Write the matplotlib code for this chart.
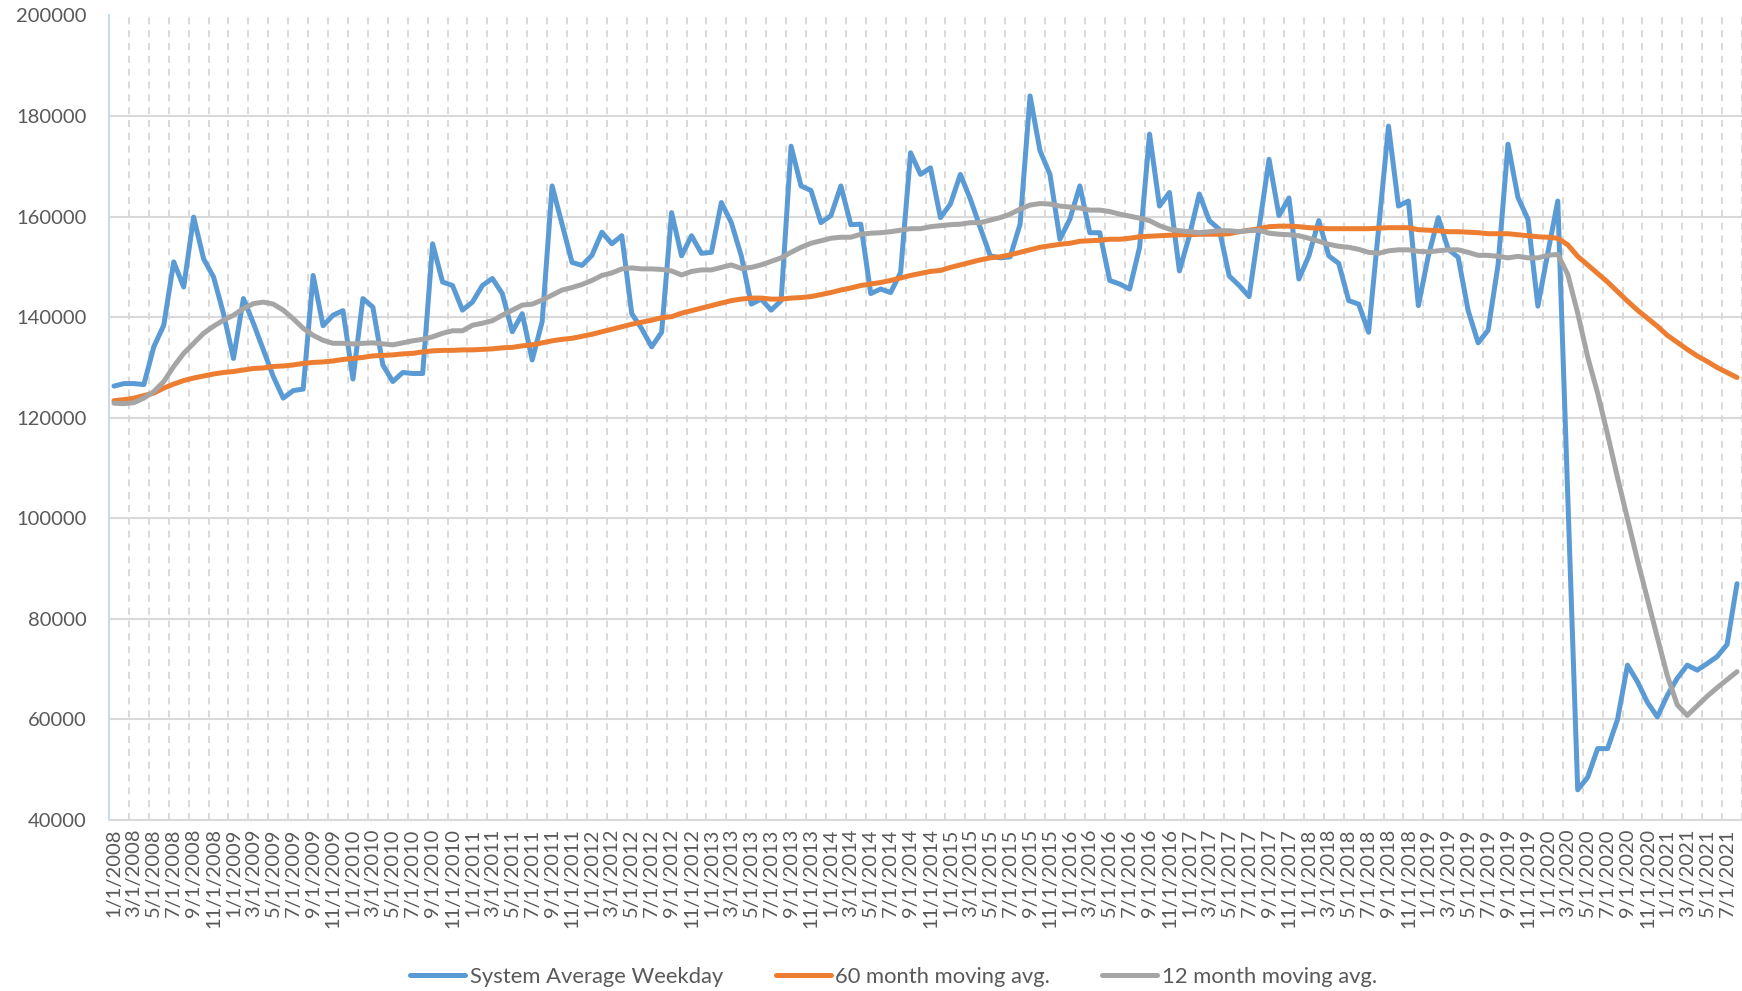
import numpy as np
import matplotlib
matplotlib.use("Agg")
import matplotlib.pyplot as plt
import pandas as pd

# ---- data (monthly, starting 1/1/2008) ----
months = pd.date_range("2008-01-01", periods=164, freq="MS")
month_labels = [f"{d.month}/1/{d.year}" for d in months]

system_avg_weekday = [
    126300, 126800, 126800, 126600, 134100, 138400, 151000, 146000, 159900, 151600,
    148000, 140700, 131800, 143700, 138800, 133500, 128200, 123900, 125400, 125700,
    148300, 138300, 140400, 141300, 127700, 143700, 142000, 130500, 127200,
    129000, 128800, 128800, 154600, 147000, 146300, 141400, 143000, 146300, 147700,
    144700, 137100, 140700, 131500, 139100, 166100, 158500, 150900, 150300, 152300,
    156900, 154600, 156200, 140700, 137700, 134100, 137000,
    160800, 152200, 156200, 152700, 152900, 162800, 158800, 152200, 142600, 143600,
    141400, 143300, 174000, 166100, 165200, 158800, 160200, 166100, 158400, 158500,
    144700, 145600, 144900, 148900, 172700, 168400, 169700,
    159800, 162500, 168400, 163500, 157800, 152200, 151800, 152000, 158500, 184000,
    173100, 168400, 155500, 159500, 166100, 156800, 156800, 147300, 146600, 145600,
    153900, 176400, 162100, 164800, 149200, 156200, 164500, 159200,
    157500, 148200, 146300, 144100, 157800, 171400, 160200, 163700, 147600, 152200,
    159200, 152200, 150700, 143300, 142600, 137000, 157500, 178000, 162100, 163100,
    142300, 152200, 159800, 153500, 151900,
    141300, 134900, 137400, 150400, 174400, 163800, 159500, 142200, 152800, 163100,
    104500, 46000, 48500, 54200, 54200, 60000, 70800, 67500, 63400, 60500,
    64800, 68200, 70800, 69800, 71100, 72500, 74900, 87000,
]

moving_avg_60 = [
    123400, 123600, 123900, 124400, 124900, 125900, 126700, 127400, 127900, 128300,
    128700, 129000, 129200, 129500, 129800, 129900, 130200, 130300, 130500, 130800,
    131000, 131100, 131300, 131600, 131800, 132000, 132300, 132400, 132500,
    132700, 132800, 133100, 133300, 133400, 133400, 133500, 133500, 133600, 133700,
    133900, 134000, 134300, 134500, 134900, 135300, 135600, 135800, 136200, 136600,
    137100, 137600, 138100, 138600, 139000, 139400, 139900,
    140100, 140800, 141300, 141800, 142300, 142800, 143300, 143600, 143800, 143800,
    143600, 143600, 143800, 143900, 144100, 144500, 144900, 145400, 145800, 146300,
    146600, 146900, 147300, 147800, 148300, 148700, 149100,
    149300, 149900, 150400, 150900, 151400, 151800, 152000, 152400, 152900, 153400,
    153900, 154200, 154500, 154700, 155100, 155200, 155300, 155500, 155500, 155700,
    156000, 156100, 156200, 156300, 156400, 156400, 156500, 156500,
    156500, 156600, 157000, 157300, 157600, 158000, 158100, 158100, 158000, 157800,
    157700, 157600, 157600, 157600, 157600, 157600, 157700, 157800, 157800, 157800,
    157400, 157300, 157200, 157000, 157000,
    156900, 156800, 156600, 156600, 156600, 156400, 156200, 156000, 155900, 155700,
    154400, 152100, 150400, 148700, 147000, 145100, 143200, 141400, 139800, 138200,
    136400, 135000, 133600, 132300, 131200, 130000, 129000, 128000,
]

moving_avg_12 = [
    122900, 122800, 123000, 123900, 125200, 127200, 130200, 132800, 134800, 136800,
    138200, 139400, 140400, 141700, 142700, 143000, 142600, 141400, 139700, 137800,
    136400, 135400, 134800, 134800, 134700, 134800, 134900, 134700, 134500,
    134900, 135300, 135600, 136100, 136800, 137300, 137300, 138400, 138800, 139300,
    140400, 141400, 142400, 142600, 143400, 144400, 145400, 145900, 146500, 147300,
    148300, 148800, 149600, 149800, 149600, 149600, 149500,
    149200, 148400, 149100, 149400, 149400, 149900, 150400, 149700, 149900, 150400,
    151100, 151800, 152900, 153900, 154700, 155200, 155700, 155900, 155900, 156500,
    156700, 156800, 157000, 157300, 157600, 157600, 158000,
    158200, 158400, 158500, 158800, 158800, 159300, 159800, 160500, 161500, 162300,
    162600, 162500, 162100, 161900, 161700, 161300, 161300, 161000, 160500, 160100,
    159700, 159200, 158200, 157500, 157200, 157000, 156800, 157000,
    157200, 157200, 157000, 157200, 157300, 156700, 156500, 156400, 156200, 155700,
    155100, 154500, 154100, 153900, 153500, 152900, 152700, 153200, 153400, 153400,
    153100, 153000, 153200, 153400, 153400,
    152900, 152300, 152300, 152100, 151800, 152100, 151800, 151800, 152300, 152500,
    148500, 140800, 132100, 124900, 116700, 108100, 99900, 91700, 84000, 76300,
    68700, 62900, 60800, 62700, 64600, 66300, 67900, 69500,
]

series_names = ["System Average Weekday", "60 month moving avg.", "12 month moving avg."]
y_ticks = [40000, 60000, 80000, 100000, 120000, 140000, 160000, 180000, 200000]

# ---- figure ----
W, H = 1742, 991
plt.rcParams["font.family"] = ["Lato", "DejaVu Sans"]
fig = plt.figure(figsize=(W / 100, H / 100), dpi=100)
left_px, top_px, bottom_px = 109, 15.5, 820
ax = fig.add_axes([left_px / W, (H - bottom_px) / H, 1 - left_px / W, (bottom_px - top_px) / H])

x = np.arange(len(system_avg_weekday))
colors = ["#5B9BD5", "#ED7D31", "#A5A5A5"]
lw = 3.6
for vals, name, c in zip([system_avg_weekday, moving_avg_60, moving_avg_12], series_names, colors):
    ax.plot(x, vals, color=c, lw=lw, label=name, solid_joinstyle="round",
            solid_capstyle="round", zorder=3)

ax.set_ylim(40000, 200000)
ax.set_xlim(-0.5, 162.3)

ax.set_yticks(y_ticks)
ax.set_yticklabels([str(v) for v in y_ticks])
major_x = x[::2]
ax.set_xticks(major_x)
ax.set_xticklabels([month_labels[i] for i in major_x], rotation=90, ha="center", va="top")
ax.set_xticks(np.arange(1.5, len(x), 2), minor=True)

ax.tick_params(axis="both", which="both", length=0, colors="#595959", labelsize=14.5)
ax.tick_params(axis="y", pad=16)
ax.tick_params(axis="x", pad=6)

ax.grid(axis="y", which="major", color="#D9D9D9", lw=1.5, zorder=0)
ax.grid(axis="x", which="minor", color="#D9D9D9", lw=1.4, linestyle=(0, (3.6, 3.0)), zorder=0)
ax.grid(axis="x", which="major", visible=False)

for s in ["top", "right"]:
    ax.spines[s].set_visible(False)
ax.spines["left"].set_color("#C5DCF0")
ax.spines["left"].set_linewidth(1.5)
ax.spines["bottom"].set_color("#D9D9D9")
ax.spines["bottom"].set_linewidth(1.5)

leg = fig.legend(loc="lower center", bbox_to_anchor=(0.513, -0.016), ncol=3, frameon=False,
                 fontsize=15.8, handlelength=2.5, handletextpad=0.2, columnspacing=2.4,
                 labelcolor="#595959")

fig.savefig("out.png", dpi=100, facecolor="white")
